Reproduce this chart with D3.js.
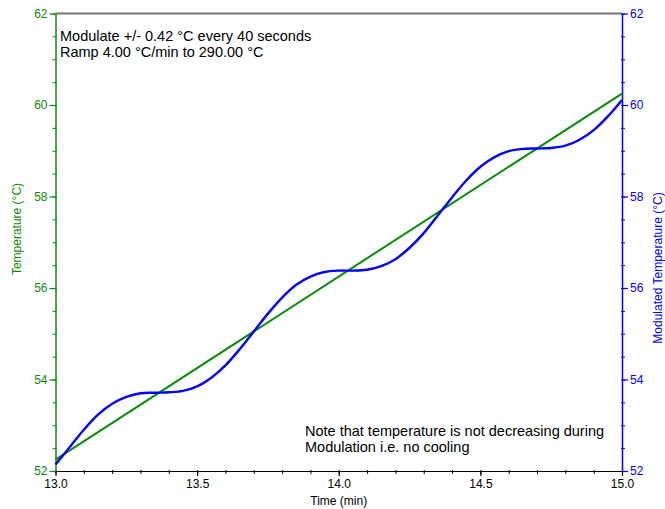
<!DOCTYPE html>
<html>
<head>
<meta charset="utf-8">
<script src="https://cdn.jsdelivr.net/npm/d3@7"></script>
<style>
  body { margin: 0; background: #fff; }
  svg { font-family: "Liberation Sans", Arial, sans-serif; }
</style>
</head>
<body>
<svg id="chart"></svg>
<script>
// ramp (green) end points and modulated temperature (blue)
var rampTime = [13.0, 15.0];
var rampTemp = [52.25, 60.25];

var modTime = [13.00, 13.05, 13.10, 13.15, 13.20, 13.25, 13.30, 13.35, 13.40, 13.45,
               13.50, 13.55, 13.60, 13.65, 13.70, 13.75, 13.80, 13.85, 13.90, 13.95,
               14.00, 14.05, 14.10, 14.15, 14.20, 14.25, 14.30, 14.35, 14.40, 14.45,
               14.50, 14.55, 14.60, 14.65, 14.70, 14.75, 14.80, 14.85, 14.90, 14.95, 15.00];
var modTemp = [52.14, 52.52, 52.90, 53.23, 53.47, 53.62, 53.70, 53.71, 53.72, 53.75,
               53.85, 54.04, 54.31, 54.66, 55.05, 55.44, 55.79, 56.07, 56.25, 56.35,
               56.38, 56.38, 56.40, 56.48, 56.63, 56.88, 57.20, 57.59, 57.98, 58.35,
               58.65, 58.86, 58.99, 59.04, 59.05, 59.06, 59.11, 59.24, 59.45, 59.75, 60.11];

var xTicks = [13.0, 13.5, 14.0, 14.5, 15.0];
var yTicks = [52, 54, 56, 58, 60, 62];

var notes = ["Modulate +/- 0.42 \u00B0C every 40 seconds", "Ramp 4.00 \u00B0C/min to 290.00 \u00B0C"];
var notes2 = ["Note that temperature is not decreasing during", "Modulation i.e. no cooling"];

var green = "#0a8a0a", blue = "#0000ff";

var margin = {top: 13.5, right: 43, bottom: 38, left: 55.5},
    W = 665, H = 509,
    width = W - margin.left - margin.right,
    height = H - margin.top - margin.bottom;

var svg = d3.select("#chart").attr("width", W).attr("height", H);
var g = svg.append("g").attr("transform", "translate(" + margin.left + "," + margin.top + ")");

var x = d3.scaleLinear().domain([13, 15]).range([0, width]);
var yL = d3.scaleLinear().domain([52, 62]).range([height, 0]);
var yR = d3.scaleLinear().domain([52, 62]).range([height, 0]);

// top frame line
g.append("line").attr("x1", 0).attr("x2", width).attr("y1", 0).attr("y2", 0)
  .style("stroke", "#777").style("stroke-width", 2);

// minor ticks
var minorX = d3.range(13, 15.0001, 0.1);
var minorY = d3.range(52, 62.0001, 0.5);

g.append("g").attr("transform", "translate(0," + height + ")")
  .call(d3.axisBottom(x).tickValues(minorX).tickSize(3).tickFormat(""))
  .call(function(s) { s.select(".domain").remove(); s.selectAll("line").attr("y1", -1).style("stroke", "#000"); });

g.append("g")
  .call(d3.axisLeft(yL).tickValues(minorY).tickSize(3).tickFormat(""))
  .call(function(s) { s.select(".domain").remove(); s.selectAll("line").attr("x1", 1).style("stroke", green); });

g.append("g").attr("transform", "translate(" + width + ",0)")
  .call(d3.axisRight(yR).tickValues(minorY).tickSize(3).tickFormat(""))
  .call(function(s) { s.select(".domain").remove(); s.selectAll("line").attr("x1", -1).style("stroke", blue); });

// major axes
var xAxis = g.append("g").attr("transform", "translate(0," + height + ")")
  .call(d3.axisBottom(x).tickValues(xTicks).tickSize(5).tickSizeOuter(0).tickPadding(3).tickFormat(d3.format(".1f")));
xAxis.select(".domain").style("stroke", "#000").style("stroke-width", 1.2);
xAxis.selectAll("line").style("stroke", "#000").style("stroke-width", 1.2);
xAxis.selectAll("text").style("font-size", "12px").style("fill", "#000");

var lAxis = g.append("g")
  .call(d3.axisLeft(yL).tickValues(yTicks).tickSize(6).tickSizeOuter(0).tickPadding(2));
lAxis.select(".domain").style("stroke", green).style("stroke-width", 1.5);
lAxis.selectAll("line").style("stroke", green).style("stroke-width", 1.2);
lAxis.selectAll("text").style("font-size", "12px").style("fill", green);

var rAxis = g.append("g").attr("transform", "translate(" + width + ",0)")
  .call(d3.axisRight(yR).tickValues(yTicks).tickSize(6).tickSizeOuter(0).tickPadding(2));
rAxis.select(".domain").style("stroke", blue).style("stroke-width", 1.5);
rAxis.selectAll("line").style("stroke", blue).style("stroke-width", 1.2);
rAxis.selectAll("text").style("font-size", "12px").style("fill", blue);

// lines
var rampLine = d3.line().x(function(d) { return x(d[0]); }).y(function(d) { return yL(d[1]); });
g.append("path")
  .datum(d3.zip(rampTime, rampTemp))
  .attr("d", rampLine)
  .style("fill", "none").style("stroke", green).style("stroke-width", 2);

var modLine = d3.line().curve(d3.curveCatmullRom)
  .x(function(d) { return x(d[0]); }).y(function(d) { return yR(d[1]); });
g.append("path")
  .datum(d3.zip(modTime, modTemp))
  .attr("d", modLine)
  .style("fill", "none").style("stroke", blue).style("stroke-width", 2.4);

// axis titles
svg.append("text")
  .attr("x", margin.left + width / 2).attr("y", 505)
  .attr("text-anchor", "middle").style("font-size", "12px").style("fill", "#000")
  .text("Time (min)");

svg.append("text")
  .attr("transform", "translate(21,229) rotate(-90)")
  .attr("text-anchor", "middle").style("font-size", "12px").style("fill", green)
  .text("Temperature (\u00B0C)");

svg.append("text")
  .attr("transform", "translate(661.5,268) rotate(-90)")
  .attr("text-anchor", "middle").style("font-size", "12px").style("fill", blue)
  .text("Modulated Temperature (\u00B0C)");

// annotations
svg.append("g").selectAll("text").data(notes).enter().append("text")
  .attr("x", 60).attr("y", function(d, i) { return 41 + i * 16; })
  .style("font-size", "14.5px").style("fill", "#000")
  .text(function(d) { return d; });

svg.append("g").selectAll("text").data(notes2).enter().append("text")
  .attr("x", 305).attr("y", function(d, i) { return 436 + i * 16; })
  .style("font-size", "14.5px").style("fill", "#000")
  .text(function(d) { return d; });
</script>
</body>
</html>
